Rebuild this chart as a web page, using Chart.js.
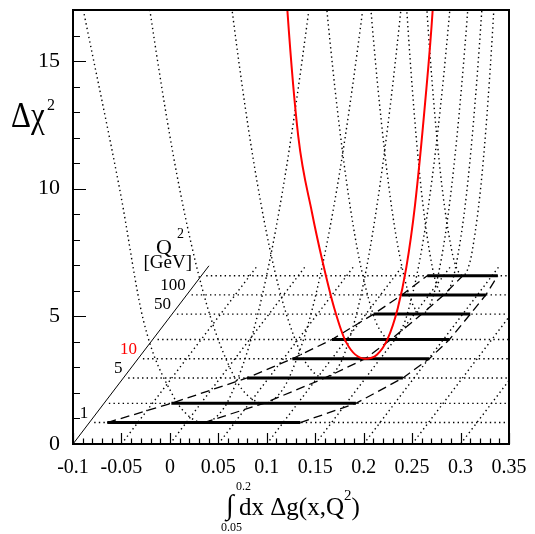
<!DOCTYPE html>
<html>
<head>
<meta charset="utf-8">
<script src="https://cdn.jsdelivr.net/npm/chart.js@4.4.1/dist/chart.umd.min.js"></script>
<style>
  body { margin: 0; background: #fff; }
</style>
</head>
<body>
<canvas id="chi2-chart" width="535" height="534"></canvas>
<script>
// Q^2 values of the planes (GeV^2) and the range of the integral at each one
const q2Levels = [1, 2, 5, 10, 20, 50, 100, 200];
const barLow = [-0.0815, -0.0305, 0.0276, 0.0593, 0.085, 0.108, 0.122, 0.1332];
const barHigh = [0.1178, 0.160, 0.1885, 0.2006, 0.2063, 0.2078, 0.2087, 0.2059];
const chi2Min = [0.0183, 0.065, 0.108, 0.1344, 0.1458, 0.1578, 0.1653, 0.1698];

// dotted profiles: x values read at these delta chi2 values (left arm, min, right arm)
const profileChi = [20.25, 16, 9, 4, 1, 0.25, 0, 0.25, 1, 4, 9, 16, 20.25];
const profileQ1 = [null, -0.1054, -0.068, -0.0442, -0.0129, 0.0027, 0.0183, 0.0318, 0.0452, 0.0722, 0.0991, 0.126, 0.1395];
const profileQ2 = [-0.070, -0.055, -0.025, 0.005, 0.035, 0.050, 0.065, 0.078, 0.091, 0.117, 0.143, 0.169, 0.182];
const profileQ5 = [-0.0057, 0.0069, 0.0322, 0.0574, 0.0827, 0.0954, 0.108, 0.1183, 0.1287, 0.1494, 0.170, 0.1907, 0.201];
const profileQ20 = [0.063, 0.0722, 0.0906, 0.109, 0.1274, 0.1366, 0.1458, 0.1543, 0.1628, 0.1797, 0.1967, 0.2136, 0.222];
const profileQ50 = [0.0892, 0.0968, 0.1121, 0.1273, 0.1426, 0.1502, 0.1578, 0.1647, 0.1716, 0.1853, 0.199, 0.2128, 0.2197];
const profileQ100 = [0.1138, 0.1195, 0.131, 0.1424, 0.1539, 0.1596, 0.1653, 0.1712, 0.1771, 0.1889, 0.2006, 0.2124, 0.2183];
const profileQ200 = [0.118, 0.1238, 0.1353, 0.1468, 0.1583, 0.164, 0.1698, 0.1748, 0.1797, 0.1897, 0.1996, 0.2095, 0.2145];

// red profile at Q^2 = 10
const redX = [0.052, 0.0541, 0.0654, 0.0795, 0.0902, 0.1026, 0.1150, 0.1344, 0.1465, 0.1574, 0.168, 0.1769, 0.1858, 0.1963, 0.2041, 0.206];
const redChi = [15, 13.66, 8.70, 5.73, 3.85, 1.97, 0.63, 0, 0.16, 0.76, 1.97, 3.58, 6.0, 10.03, 13.66, 15];

const xTicks = [-0.1, -0.05, 0, 0.05, 0.1, 0.15, 0.2, 0.25, 0.3, 0.35];
const q2Labels = ['1', '5', '10', '50', '100'];
const q2LabelValues = [1, 5, 10, 50, 100];

// pseudo 3d: the Q^2 axis runs up and to the right
const SKEW = 0.0201;
const AXIS_DEPTH = 6.98;
const FONT = '"Liberation Serif", "Times New Roman", serif';

function depthOf(q2) {
  return 0.84 + 2.5 * Math.log10(q2);
}

function place(x, chi, depth) {
  return { x: x + depth * SKEW, y: chi + depth };
}

function line(points, style) {
  return Object.assign({
    data: points,
    showLine: true,
    pointRadius: 0,
    borderColor: '#000',
    borderWidth: 1,
    fill: false
  }, style);
}

const dotted = { borderDash: [1.4, 3.2], borderWidth: 1.4, order: 4 };
const datasets = [];

// red curve
datasets.push(line(redX.map((x, i) => place(x, redChi[i], depthOf(10))),
  { borderColor: '#f00', borderWidth: 2, cubicInterpolationMode: 'monotone', order: 0 }));

// thick ranges
q2Levels.forEach((q2, i) => {
  const d = depthOf(q2);
  datasets.push(line([place(barLow[i], 0, d), place(barHigh[i], 0, d)], { borderWidth: 3, order: 1 }));
});

// dashed chains through the ends and minima
[barLow, chi2Min, barHigh].forEach(arr => {
  datasets.push(line(arr.map((x, i) => place(x, 0, depthOf(q2Levels[i]))),
    { borderDash: [9, 5], borderWidth: 1.3, order: 2 }));
});

// dotted profiles
const profiles = [[1, profileQ1], [2, profileQ2], [5, profileQ5], [20, profileQ20],
  [50, profileQ50], [100, profileQ100], [200, profileQ200]];
profiles.forEach(([q2, xs]) => {
  const d = depthOf(q2);
  const pts = [];
  xs.forEach((x, i) => { if (x !== null) pts.push(place(x, profileChi[i], d)); });
  datasets.push(line(pts, Object.assign({ cubicInterpolationMode: 'monotone' }, dotted)));
});

// horizontal lines of each plane
q2Levels.forEach(q2 => {
  const d = depthOf(q2);
  datasets.push(line([place(-0.095, 0, d), { x: 0.35, y: d }], dotted));
});

// floor lines of constant x
xTicks.slice(1, -1).forEach(v => {
  datasets.push(line([place(v, 0, 0), place(v, 0, AXIS_DEPTH)], dotted));
});

// Q^2 axis
datasets.push(line([place(-0.1, 0, 0), place(-0.1, 0, AXIS_DEPTH)], { borderWidth: 1, order: 3 }));

const decorations = {
  id: 'decorations',
  afterDraw(chart) {
    const { ctx, chartArea: a, scales: { x, y } } = chart;
    ctx.save();
    ctx.strokeStyle = '#000';
    ctx.lineWidth = 2;
    ctx.strokeRect(a.left, a.top, a.right - a.left, a.bottom - a.top);

    ctx.lineWidth = 1.2;
    ctx.beginPath();
    for (let i = 0; i <= 45; i++) {
      const px = Math.round(x.getPixelForValue(-0.1 + i * 0.01)) + 0.5;
      const len = i % 5 === 0 ? 11 : 5.5;
      ctx.moveTo(px, a.bottom);
      ctx.lineTo(px, a.bottom - len);
    }
    for (let v = 0; v <= 17; v++) {
      const py = Math.round(y.getPixelForValue(v)) + 0.5;
      const len = v % 5 === 0 ? 13 : 7;
      ctx.moveTo(a.left, py);
      ctx.lineTo(a.left + len, py);
    }
    ctx.stroke();

    ctx.fillStyle = '#000';
    ctx.textBaseline = 'alphabetic';
    ctx.textAlign = 'left';
    // y title, stretched like the original symbol font
    ctx.save();
    ctx.translate(11, 127);
    ctx.scale(1, 1.15);
    ctx.font = '31px ' + FONT;
    ctx.fillText('Δχ', 0, 0);
    ctx.restore();
    ctx.font = '16px ' + FONT;
    ctx.fillText('2', 47, 110);

    // x title
    ctx.font = '28px ' + FONT;
    ctx.fillText('∫', 226, 514);
    ctx.font = '12px ' + FONT;
    ctx.fillText('0.2', 236, 490);
    ctx.fillText('0.05', 221, 531);
    ctx.font = '25px ' + FONT;
    const t = 'dx Δg(x,Q';
    ctx.fillText(t, 239, 515);
    let w = 239 + ctx.measureText(t).width;
    ctx.font = '15px ' + FONT;
    ctx.fillText('2', w, 500);
    w += ctx.measureText('2').width;
    ctx.font = '25px ' + FONT;
    ctx.fillText(')', w, 515);

    // Q^2 axis labels
    ctx.textAlign = 'right';
    ctx.font = '17px ' + FONT;
    q2LabelValues.forEach((q2, i) => {
      const p = place(-0.1, 0, depthOf(q2));
      ctx.fillStyle = q2 === 10 ? '#f00' : '#000';
      ctx.fillText(q2Labels[i], x.getPixelForValue(p.x) - 1, y.getPixelForValue(p.y) - 5);
    });
    ctx.fillStyle = '#000';
    ctx.font = '19px ' + FONT;
    ctx.fillText('[GeV]', 192, 268);
    ctx.textAlign = 'left';
    ctx.font = '22px ' + FONT;
    ctx.fillText('Q', 156, 254);
    ctx.font = '14px ' + FONT;
    ctx.fillText('2', 177, 238);
    ctx.restore();
  }
};

new Chart(document.getElementById('chi2-chart'), {
  type: 'scatter',
  data: { datasets: datasets },
  options: {
    responsive: false,
    animation: false,
    layout: { padding: { top: 10, right: 26, left: 0, bottom: 0 } },
    plugins: { legend: { display: false }, tooltip: { enabled: false } },
    scales: {
      x: {
        type: 'linear',
        min: -0.1,
        max: 0.35,
        afterFit: s => { s.height = 90; s.paddingLeft = 0; s.paddingRight = 0; },
        grid: { display: false, drawTicks: false },
        border: { display: false },
        ticks: {
          stepSize: 0.05,
          includeBounds: false,
          autoSkip: false,
          maxRotation: 0,
          padding: 12,
          color: '#000',
          font: { family: FONT, size: 20 },
          callback: v => String(Math.round(v * 100) / 100)
        }
      },
      y: {
        type: 'linear',
        min: 0,
        max: 17,
        afterFit: s => { s.width = 73; s.paddingTop = 0; s.paddingBottom = 0; },
        grid: { display: false, drawTicks: false },
        border: { display: false },
        ticks: {
          stepSize: 5,
          includeBounds: false,
          padding: 13,
          color: '#000',
          font: { family: FONT, size: 22 }
        }
      }
    }
  },
  plugins: [decorations]
});
</script>
</body>
</html>
